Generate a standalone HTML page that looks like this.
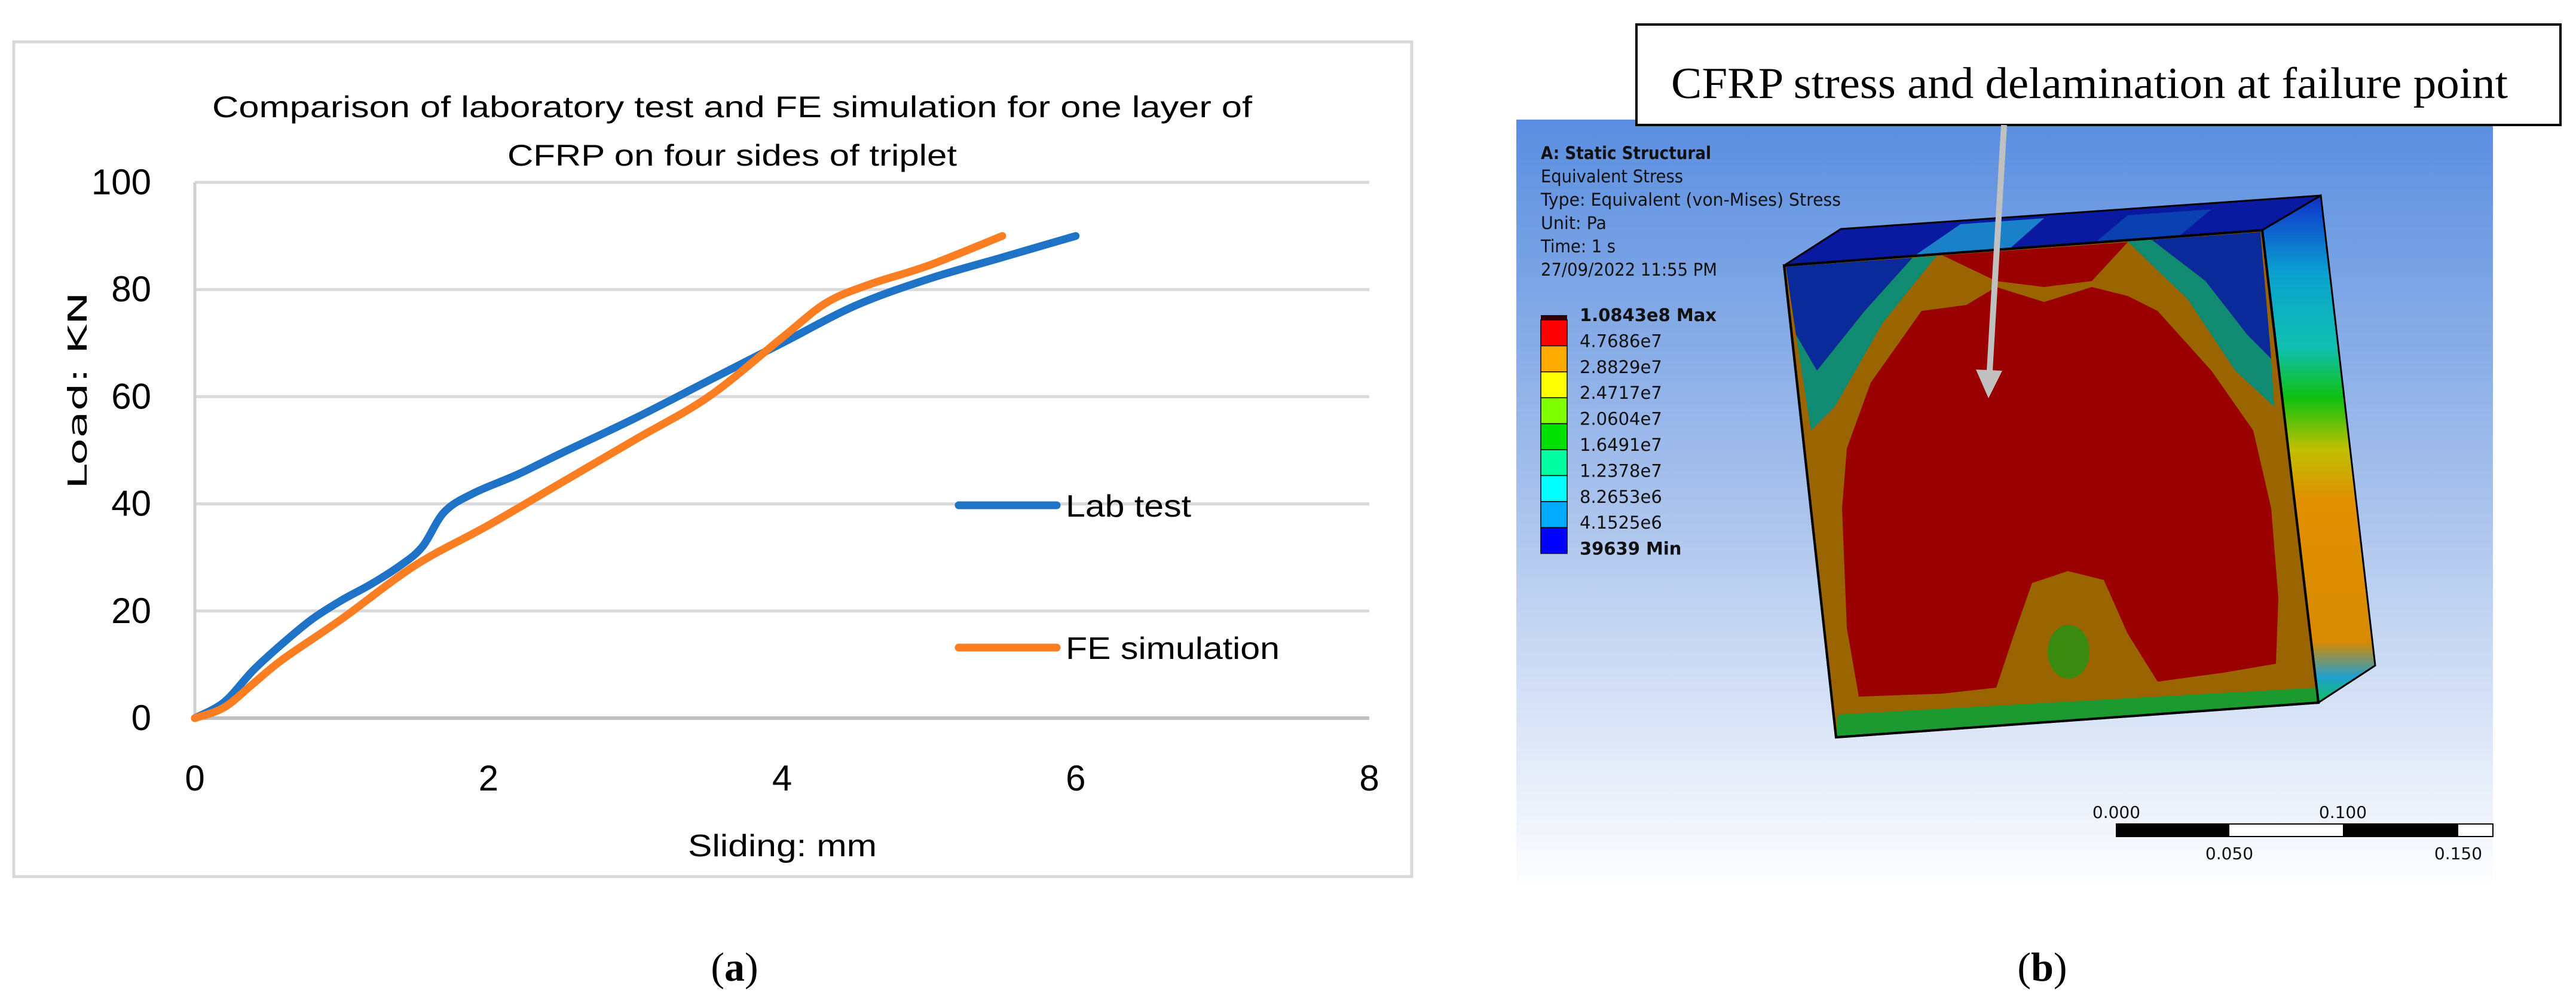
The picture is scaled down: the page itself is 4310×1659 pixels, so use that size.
<!DOCTYPE html>
<html><head><meta charset="utf-8"><style>
html,body{margin:0;padding:0;background:#fff;}
svg{display:block;}
</style></head><body>
<svg width="4310" height="1659" viewBox="0 0 4310 1659" xmlns="http://www.w3.org/2000/svg">
<defs>
<linearGradient id="bg" x1="0" y1="0" x2="0" y2="1">
<stop offset="0" stop-color="#5a8ee0"/><stop offset="0.5" stop-color="#a9c2ec"/><stop offset="1" stop-color="#ffffff"/>
</linearGradient>
<linearGradient id="side" x1="0" y1="0" x2="0" y2="1">
<stop offset="0" stop-color="#1030c8"/><stop offset="0.15" stop-color="#0aa0d0"/><stop offset="0.3" stop-color="#10c0b0"/><stop offset="0.4" stop-color="#10c010"/><stop offset="0.5" stop-color="#c0c000"/><stop offset="0.6" stop-color="#e09000"/><stop offset="0.88" stop-color="#d88a00"/><stop offset="0.95" stop-color="#20a0d0"/><stop offset="1" stop-color="#10c060"/>
</linearGradient>
</defs>

<!-- Panel a -->
<rect x="23" y="70" width="2339" height="1396" fill="#fff" stroke="#d9d9d9" stroke-width="5"/>
<text x="1225" y="196" font-family="Liberation Sans, sans-serif" font-size="50" text-anchor="middle" textLength="1740" lengthAdjust="spacingAndGlyphs">Comparison of laboratory test and FE simulation for one layer of</text>
<text x="1225" y="277" font-family="Liberation Sans, sans-serif" font-size="50" text-anchor="middle" textLength="752" lengthAdjust="spacingAndGlyphs">CFRP on four sides of triplet</text>
<g id="grid"></g>
<g id="yticks"></g>
<g id="xticks"></g>
<g id="series"></g>
<text x="1309" y="1432" font-family="Liberation Sans, sans-serif" font-size="52" text-anchor="middle" textLength="316" lengthAdjust="spacingAndGlyphs">Sliding: mm</text>
<text transform="translate(145,653) rotate(-90)" font-family="DejaVu Sans, sans-serif" font-size="44" text-anchor="middle" textLength="330" lengthAdjust="spacingAndGlyphs">Load: KN</text>
<g>
<line x1="1604" y1="845" x2="1768" y2="845" stroke="#1f73c6" stroke-width="13" stroke-linecap="round"/>
<text x="1783" y="864" font-family="Liberation Sans, sans-serif" font-size="52" textLength="210" lengthAdjust="spacingAndGlyphs">Lab test</text>
<line x1="1604" y1="1083" x2="1768" y2="1083" stroke="#fb7e23" stroke-width="13" stroke-linecap="round"/>
<text x="1783" y="1102" font-family="Liberation Sans, sans-serif" font-size="52" textLength="358" lengthAdjust="spacingAndGlyphs">FE simulation</text>
</g>
<text x="1229" y="1640" font-family="Liberation Serif, serif" font-size="68" text-anchor="middle">(<tspan font-weight="bold">a</tspan>)</text>

<!-- Panel b -->
<rect x="2537" y="200" width="1634" height="1288" fill="url(#bg)"/>
<g font-family="DejaVu Sans, sans-serif" font-size="29" fill="#111">
<text x="2578" y="266" font-weight="bold" textLength="285" lengthAdjust="spacingAndGlyphs">A: Static Structural</text>
<text x="2578" y="305" textLength="238" lengthAdjust="spacingAndGlyphs">Equivalent Stress</text>
<text x="2578" y="344" textLength="502" lengthAdjust="spacingAndGlyphs">Type: Equivalent (von-Mises) Stress</text>
<text x="2578" y="383" textLength="110" lengthAdjust="spacingAndGlyphs">Unit: Pa</text>
<text x="2578" y="422" textLength="125" lengthAdjust="spacingAndGlyphs">Time: 1 s</text>
<text x="2578" y="461" textLength="295" lengthAdjust="spacingAndGlyphs">27/09/2022 11:55 PM</text>
</g>
<g id="cbar"></g>

<g>
<polygon points="2985,444 3080,383 3883,327 3785,385" fill="#0a1aa0" stroke="#000" stroke-width="3"/>
<polygon points="3200,430 3280,375 3420,365 3360,418" fill="#1a80c8"/>
<polygon points="3500,410 3560,360 3700,350 3640,400" fill="#0a40b0"/>
<polygon points="3785,385 3883,327 3974,1113 3879,1175" fill="url(#side)" stroke="#000" stroke-width="3"/>
<polygon points="2985,444 3785,385 3879,1175 3072,1233" fill="#9a6400" stroke="#000" stroke-width="4"/>
<polygon points="2988,446 3200,431 3120,520 3040,620 3005,560" fill="#0a2a9a"/>
<polygon points="3005,560 3040,620 3120,520 3200,431 3240,428 3150,540 3070,680 3030,720" fill="#108a70"/>
<polygon points="3782,388 3600,401 3690,470 3760,560 3800,600" fill="#0a2a9a"/>
<polygon points="3800,600 3760,560 3690,470 3600,401 3560,404 3660,500 3740,620 3805,680" fill="#108a70"/>
<polygon points="3250,427 3560,405 3500,470 3420,480 3340,470" fill="#9b0000"/>
<polygon points="3075,1195 3877,1150 3879,1175 3072,1233" fill="#1c9a30"/>
<path d="M3215,520 L3290,510 L3340,480 L3420,505 L3500,480 L3560,495 L3610,520 L3700,620 L3770,720 L3800,850 L3812,1000 L3808,1110 L3720,1125 L3610,1140 L3560,1060 L3520,970 L3460,955 L3400,975 L3370,1060 L3340,1150 L3250,1160 L3110,1165 L3090,1050 L3082,850 L3090,750 L3130,640 Z" fill="#9b0000"/>
<ellipse cx="3461" cy="1090" rx="35" ry="45" fill="#3a8a10"/>
<polygon points="2985,444 3785,385 3879,1175 3072,1233" fill="none" stroke="#000" stroke-width="4"/>
</g>

<polygon points="2738,41 4284,41 4284,209 2738,209" fill="#fff" stroke="#000" stroke-width="4"/>
<text x="2796" y="164" font-family="Liberation Serif, serif" font-size="74" textLength="1400" lengthAdjust="spacingAndGlyphs">CFRP stress and delamination at failure point</text>
<g>
<line x1="3353" y1="209" x2="3329" y2="620" stroke="#c0c0c0" stroke-width="10"/>
<polygon points="3306,618 3350,620 3327,666" fill="#c0c0c0"/>
</g>

<g>
<rect x="3541" y="1378" width="630" height="21" fill="#fff" stroke="#000" stroke-width="2"/>
<rect x="3541" y="1378" width="189" height="21" fill="#000"/>
<rect x="3920" y="1378" width="193" height="21" fill="#000"/>
<g font-family="DejaVu Sans, sans-serif" font-size="28" fill="#111" text-anchor="middle">
<text x="3541" y="1368">0.000</text><text x="3920" y="1368">0.100</text>
<text x="3730" y="1437">0.050</text><text x="4113" y="1437">0.150</text>
</g>
</g>
<text x="3417" y="1640" font-family="Liberation Serif, serif" font-size="68" text-anchor="middle">(<tspan font-weight="bold">b</tspan>)</text>
</svg>
<script>
const xTicks=[0,2,4,6,8];
const yTicks=[0,20,40,60,80,100];
const labX=[0,0.2,0.4,0.6,0.8,1.0,1.2,1.4,1.55,1.7,1.9,2.2,2.5,3.0,3.5,4.0,4.5,5.0,5.5,6.0];
const labY=[0,3,9,14,18.5,22,25,28.5,32,38.5,42,45.5,49.5,56,63,70,77,82,86,90];
const feX=[0,0.2,0.4,0.6,1.0,1.5,2.0,2.5,3.0,3.5,4.0,4.3,4.6,5.0,5.5];
const feY=[0,2,6.5,11,18.5,28.5,36,44,52,60,71,77.5,81,84.5,90];
const NS='http://www.w3.org/2000/svg';
const X0=326,X1=2291,Y0=1201,Y1=305;
function sx(v){return X0+(v-0)/(8-0)*(X1-X0);}
function sy(v){return Y0-(v-0)/(100-0)*(Y0-Y1);}
function mk(tag,attrs,parent){const e=document.createElementNS(NS,tag);for(const k in attrs)e.setAttribute(k,attrs[k]);parent.appendChild(e);return e;}
const grid=document.getElementById('grid');
yTicks.forEach(t=>{
 const l=mk('line',{x1:X0,x2:X1,y1:sy(t),y2:sy(t),stroke:t===0?'#bfbfbf':'#d9d9d9','stroke-width':t===0?6:5},grid);
 
 
});
const ax=mk('line',{x1:X0,x2:X0,y1:Y1,y2:Y0,stroke:'#d0d0d0','stroke-width':5},grid);


const yt=document.getElementById('yticks');
yTicks.forEach(t=>{
 const e=mk('text',{x:253,y:sy(t)+20,'text-anchor':'end','font-family':'Liberation Sans, sans-serif','font-size':60},yt);
 e.textContent=t;
 
 
});
const xt=document.getElementById('xticks');
xTicks.forEach(t=>{
 const e=mk('text',{x:sx(t),y:1322,'text-anchor':'middle','font-family':'Liberation Sans, sans-serif','font-size':60},xt);
 e.textContent=t;
 
 
});
function smooth(xs,ys){
 const p=xs.map((x,i)=>[sx(x),sy(ys[i])]);
 let d='M'+p[0][0]+','+p[0][1];
 for(let i=0;i<p.length-1;i++){
  const a=p[Math.max(i-1,0)],b=p[i],c=p[i+1],e=p[Math.min(i+2,p.length-1)];
  const c1=[b[0]+(c[0]-a[0])/6,b[1]+(c[1]-a[1])/6],c2=[c[0]-(e[0]-b[0])/6,c[1]-(e[1]-b[1])/6];
  d+=' C'+c1+' '+c2+' '+c;
 }
 return d;
}
const ser=document.getElementById('series');
const fe=mk('path',{d:smooth(feX,feY),fill:'none',stroke:'#fb7e23','stroke-width':13,'stroke-linecap':'round','stroke-linejoin':'round'},ser);


const lab=mk('path',{d:smooth(labX,labY),fill:'none',stroke:'#1f73c6','stroke-width':13,'stroke-linecap':'round','stroke-linejoin':'round'},ser);


ser.insertBefore(lab,fe);
const cbLabels=['1.0843e8 Max','4.7686e7','2.8829e7','2.4717e7','2.0604e7','1.6491e7','1.2378e7','8.2653e6','4.1525e6','39639 Min'];
const cbColors=['#ff0000','#ffaa00','#ffff00','#80ff00','#00e000','#00ffa0','#00ffff','#00aaff','#0000ff'];
const cb=document.getElementById('cbar');
cbColors.forEach((c,i)=>{
 const r=mk('rect',{x:2578,y:535+i*43.4,width:44,height:43.4,fill:c,stroke:'#000','stroke-width':1.5},cb);
 
 
});
mk('rect',{x:2578,y:527,width:44,height:8,fill:'#300000'},cb);
cbLabels.forEach((t,i)=>{
 const e=mk('text',{x:2643,y:537+i*43.4,'font-family':'DejaVu Sans, sans-serif','font-size':29,fill:'#111','font-weight':(i===0||i===9)?'bold':'normal'},cb);
 e.textContent=t;
 
 
});
</script>
</body></html>
